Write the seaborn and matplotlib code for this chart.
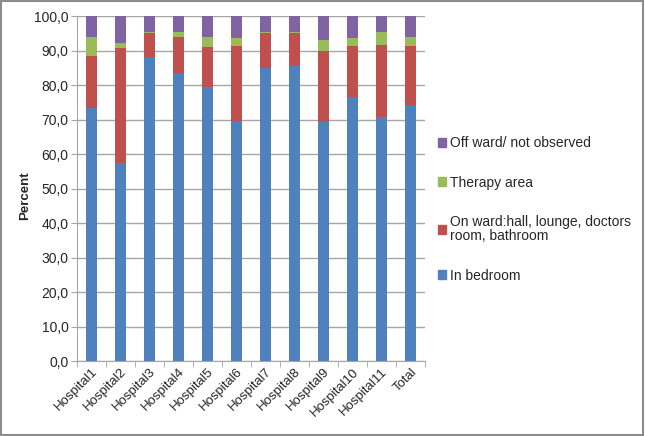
import seaborn as sns
import numpy as np
import matplotlib.pyplot as plt
from matplotlib.patches import Rectangle, Patch
from matplotlib.ticker import FuncFormatter, FixedLocator

hospitals = ['Hospital1', 'Hospital2', 'Hospital3', 'Hospital4', 'Hospital5', 'Hospital6',
             'Hospital7', 'Hospital8', 'Hospital9', 'Hospital10', 'Hospital11', 'Total']
in_bedroom = [73.5, 57.4, 88.2, 83.4, 79.4, 69.5, 85.0, 85.6, 69.4, 76.5, 70.7, 74.2]
on_ward = [15.0, 33.4, 6.8, 10.6, 11.6, 21.9, 10.2, 9.4, 20.6, 14.8, 21.0, 17.1]
therapy = [5.5, 1.5, 0.4, 1.4, 3.0, 2.2, 0.3, 0.4, 3.0, 2.3, 3.7, 2.7]
off_ward = [100 - a - b - c for a, b, c in zip(in_bedroom, on_ward, therapy)]

series = ['In bedroom', 'On ward:hall, lounge, doctors\nroom, bathroom', 'Therapy area', 'Off ward/ not observed']
colors = ['#4F81BD', '#C0504D', '#9BBB59', '#8064A2']

sns.set_style('white')
plt.rcParams['font.family'] = ['Liberation Sans', 'DejaVu Sans']

fig = plt.figure(figsize=(6.45, 4.36), dpi=100)
ax = fig.add_axes([0.119, 0.172, 0.54, 0.791])

# stacked: draw cumulative tops, largest first
cum = np.cumsum(np.array([in_bedroom, on_ward, therapy, off_ward]), axis=0)
for i in range(3, -1, -1):
    sns.barplot(x=hospitals, y=cum[i], color=colors[i], width=0.38, saturation=1,
                linewidth=0, ax=ax, zorder=3)

ax.set_ylim(0, 100)
ax.set_xlim(-0.5, 11.5)
ax.set_yticks(np.arange(0, 101, 10))
ax.yaxis.set_major_formatter(FuncFormatter(lambda v, p: f'{v:.1f}'.replace('.', ',')))
ax.grid(axis='y', color='#A6A6A6', lw=1, zorder=0)
ax.set_axisbelow(True)
for s in ['top', 'right']:
    ax.spines[s].set_visible(False)
for s in ['left', 'bottom']:
    ax.spines[s].set_color('#A6A6A6')
ax.tick_params(axis='y', length=4, color='#A6A6A6', labelsize=10, pad=2, direction='out', left=True)
ax.tick_params(axis='x', length=0, labelsize=9.5)
ax.xaxis.set_minor_locator(FixedLocator(np.arange(-0.5, 12, 1)))
ax.tick_params(axis='x', which='minor', length=4, color='#A6A6A6', bottom=True)
plt.setp(ax.get_xticklabels(), rotation=45, ha='right', rotation_mode='anchor')
ax.set_xlabel('')
ax.set_ylabel('Percent', fontsize=9.5, fontweight='bold')
ax.yaxis.set_label_coords(-0.13, 0.48)

handles = [Patch(color=colors[i], label=series[i]) for i in range(3, -1, -1)]
leg = ax.legend(handles=handles, loc='center left', bbox_to_anchor=(1.0, 0.44), frameon=False,
                fontsize=10, handlelength=0.6, handleheight=0.6, handletextpad=0.3,
                labelspacing=1.85)
for t in leg.get_texts():
    t.set_linespacing(0.95)

fig.patches.append(Rectangle((0.002, 0.003), 0.995, 0.994, transform=fig.transFigure,
                             fill=False, edgecolor='#8C8C8C', lw=1.5))
fig.savefig('out.png', dpi=100)
